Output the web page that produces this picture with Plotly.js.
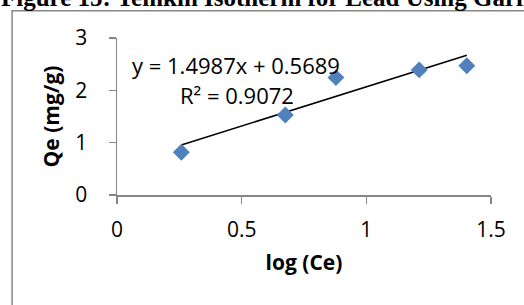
<!DOCTYPE html>
<html>
<head>
<meta charset="utf-8">
<script src="https://cdn.plot.ly/plotly-3.0.1.min.js"></script>
<style>html,body{margin:0;padding:0;background:#fff;overflow:hidden}#chart{width:524px;height:305px}</style>
</head>
<body>
<div id="chart"></div>
<script>
const logCe = [0.258, 0.675, 0.878, 1.212, 1.403];
const qe = [0.816, 1.53, 2.243, 2.39, 2.47];
const slope = 1.4987;
const intercept = 0.5689;
const rSquared = 0.9072;
const xTicks = [0, 0.5, 1, 1.5];
const xTickText = ['0', '0.5', '1', '1.5'];
const yTicks = [0, 1, 2, 3];
const yTickText = ['0', '1', '2', '3'];
const figureTitle = 'Figure 15: Temkin Isotherm for Lead Using Garlic';

const xMin = Math.min(...logCe), xMax = Math.max(...logCe);
const lineX = [xMin, xMax];
const lineY = lineX.map(v => slope * v + intercept);

const axisColor = '#868686';
const font = "'Open Sans', 'Liberation Sans', sans-serif";

const data = [
  {x: lineX, y: lineY, type: 'scatter', mode: 'lines', line: {color: '#000', width: 1.5}, hoverinfo: 'skip'},
  {x: logCe, y: qe, type: 'scatter', mode: 'markers', marker: {symbol: 'diamond', size: 13, color: '#4F81BD'}}
];

const layout = {
  width: 524, height: 305,
  margin: {l: 117, r: 33, t: 38, b: 110},
  paper_bgcolor: '#fff', plot_bgcolor: '#fff',
  showlegend: false,
  font: {family: font, size: 21, color: '#000'},
  xaxis: {
    range: [0, 1.5], tickvals: xTicks, ticktext: xTickText,
    showgrid: false, zeroline: false, showline: true, linecolor: axisColor, linewidth: 1.5,
    ticks: 'outside', ticklen: 7, tickcolor: axisColor, tickwidth: 1.5,
    tickfont: {family: font, size: 21, color: '#000'},
    ticklabelstandoff: 8,
    title: {text: '<b>log (Ce)</b>', font: {family: font, size: 21, color: '#000'}, standoff: 13}
  },
  yaxis: {
    range: [0, 3], tickvals: yTicks, ticktext: yTickText,
    showgrid: false, zeroline: false, showline: true, linecolor: axisColor, linewidth: 1.5,
    ticks: 'outside', ticklen: 7, tickcolor: axisColor, tickwidth: 1.5,
    tickfont: {family: font, size: 21, color: '#000'},
    ticklabelstandoff: 17,
    title: {text: '<b>Qe (mg/g)</b>', font: {family: font, size: 21, color: '#000'}, standoff: 10}
  },
  shapes: [
    {type: 'rect', xref: 'paper', yref: 'paper', x0: -0.2805, x1: 3, y0: -3, y1: 1.174,
     line: {color: axisColor, width: 1.5}, fillcolor: 'rgba(0,0,0,0)', layer: 'below'}
  ],
  annotations: [
    {x: -0.315, y: 1.16, xref: 'paper', yref: 'paper', xanchor: 'left', yanchor: 'bottom',
     text: '<b>' + figureTitle + '</b>', showarrow: false,
     font: {family: "'Liberation Serif', 'DejaVu Serif', serif", size: 25, color: '#000'}},
    {x: 0.478, y: 2.486, xref: 'x', yref: 'y', text: 'y = ' + slope + 'x + ' + intercept,
     showarrow: false, font: {family: font, size: 22, color: '#000'}},
    {x: 0.48, y: 1.912, xref: 'x', yref: 'y', text: 'R² = ' + rSquared,
     showarrow: false, font: {family: font, size: 22, color: '#000'}}
  ]
};

Plotly.newPlot('chart', data, layout, {displayModeBar: false, staticPlot: true});
</script>
</body>
</html>
